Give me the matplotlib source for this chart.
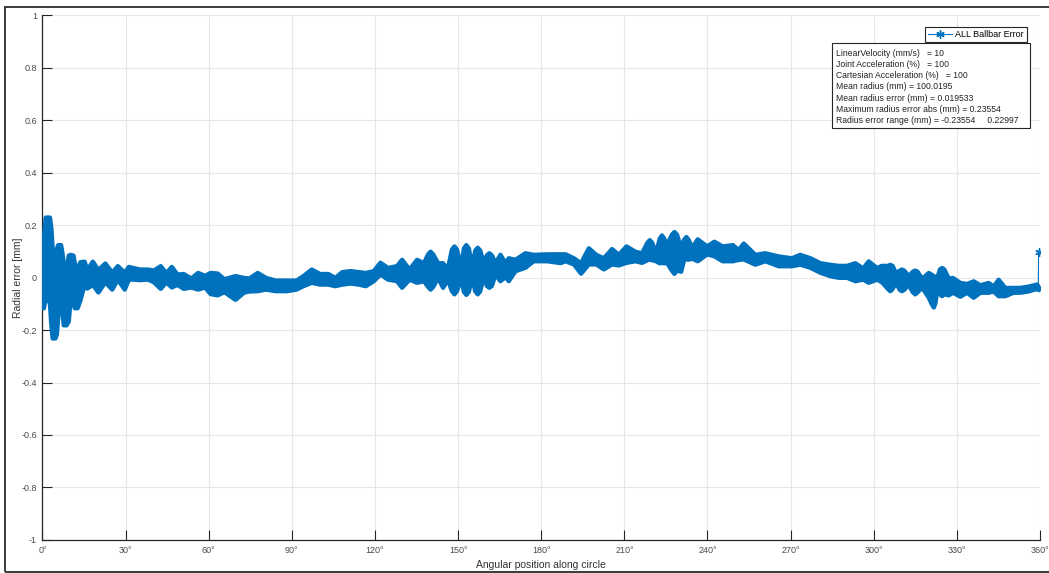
import matplotlib.pyplot as plt
from matplotlib.patches import Rectangle
import numpy as np

plt.rcParams['font.family'] = ['Liberation Sans', 'DejaVu Sans']

# Envelope of the radial error band
ANGLE = [0.0, 0.3, 1.0, 2.5, 3.0, 3.5, 4.5, 5.0, 5.5, 6.5, 7.0, 7.5, 8.5, 9.3, 10.0,
         11.0, 11.5, 12.5, 13.5, 15.0, 16.0, 18.0, 20.0, 22.5, 25.0, 27.0, 29.5,
         31.0, 33.0, 35.0, 38.0, 40.0, 42.5, 44.5, 46.5, 48.5,
         50.8, 53.5, 56.0, 58.5, 60.5, 63.0, 65.5, 69.5, 72.5, 74.5, 77.5, 80.5,
         84.0, 88.0, 91.5, 94.0, 97.0, 100.0, 103.0, 105.5, 108.0, 111.0, 114.0, 116.5,
         119.4, 121.8, 124.5, 127.8, 129.6, 132.3, 135.0, 137.5,
         139.0, 139.9, 140.8, 142.6, 144.4, 146.1,
         147.6, 148.5, 149.4, 151.0, 151.9, 152.8, 153.7, 154.9,
         156.0, 156.9, 157.8, 159.1, 160.2, 161.1, 162.0, 163.3, 165.1, 166.9,
         168.1, 170.5, 174.1, 177.1, 182.0, 186.8,
         188.6, 191.6, 194.2, 197.0, 199.7, 202.4, 205.4, 207.8, 210.6, 213.8, 216.2,
         218.2, 219.0, 219.8, 221.3, 222.6, 223.4, 224.2, 225.2,
         227.0, 227.9, 228.8, 230.3, 231.4, 232.2, 233.0, 234.3, 236.3, 239.7, 242.3,
         245.3, 249.0, 251.1, 252.9,
         257.1, 260.7, 265.5, 270.3, 273.3, 277.0, 280.6, 284.2, 287.2, 290.2, 293.2,
         296.0, 298.0, 301.0, 302.8, 305.0, 305.8, 306.6, 307.9, 309.2, 310.0, 310.8,
         312.4, 314.0, 314.8, 315.6, 317.3, 319.7, 320.8, 321.5, 322.1, 322.7,
         323.7, 324.5, 325.3, 326.9, 328.4, 331.1, 333.5, 335.9, 338.3, 341.3, 343.1,
         344.9, 347.3, 350.3, 352.7, 355.7, 358.8, 359.4]
UPPER = [-0.09, 0.15, 0.23, 0.23, 0.19, 0.11, 0.05, 0.11, 0.125, 0.125, 0.095, 0.055, 0.02, 0.085, 0.088,
         0.085, 0.055, 0.03, 0.06, 0.062, 0.03, 0.062, 0.03, 0.055, 0.02, 0.045, 0.02,
         0.042, 0.037, 0.032, 0.032, 0.028, 0.045, 0.018, 0.042, 0.013,
         0.015, -0.002, 0.019, 0.008, 0.019, 0.017, -0.005, 0.007, 0.0, -0.002, 0.019, 0.0,
         -0.01, -0.01, -0.01, 0.007, 0.032, 0.015, 0.015, 0.0, 0.022, 0.026, 0.022, 0.019,
         0.026, 0.058, 0.038, 0.045, 0.069, 0.032, 0.069, 0.056,
         0.09, 0.1, 0.09, 0.056, 0.056, 0.032,
         0.108, 0.12, 0.108, 0.038, 0.112, 0.125, 0.112, 0.038,
         0.104, 0.115, 0.104, 0.056, 0.086, 0.094, 0.086, 0.056, 0.088, 0.056,
         0.075, 0.069, 0.094, 0.088, 0.09, 0.09,
         0.09, 0.075, 0.056, 0.113, 0.088, 0.075, 0.11, 0.088, 0.12, 0.1, 0.094,
         0.135, 0.144, 0.135, 0.094, 0.15, 0.162, 0.15, 0.125,
         0.165, 0.175, 0.165, 0.115, 0.145, 0.156, 0.145, 0.115, 0.147, 0.12, 0.138,
         0.12, 0.125, 0.106, 0.131,
         0.088, 0.094, 0.082, 0.075, 0.088, 0.075, 0.056, 0.05, 0.046, 0.046, 0.056,
         0.036, 0.063, 0.038, 0.046, 0.046, 0.05, 0.046, 0.017, 0.028, 0.032, 0.028,
         0.007, 0.024, 0.028, 0.024, -0.003, 0.019, 0.012, 0.007, 0.004, -0.003,
         0.032, 0.038, 0.032, -0.003, 0.0, -0.019, -0.023, -0.013, -0.028, -0.019, -0.033,
         -0.007, -0.038, -0.038, -0.038, -0.033, -0.025, -0.035]
LOWER = [-0.115, -0.115, -0.075, -0.095, -0.175, -0.23, -0.23, -0.215, -0.145, -0.045, -0.125, -0.18, -0.18, -0.165, -0.075,
         -0.095, -0.115, -0.115, -0.085, -0.026, -0.04, -0.026, -0.055, -0.016, -0.044, -0.006, -0.044,
         -0.006, -0.006, -0.008, -0.006, -0.016, -0.041, -0.016, -0.036, -0.026,
         -0.041, -0.036, -0.044, -0.036, -0.061, -0.066, -0.054, -0.083, -0.056, -0.051, -0.05, -0.044,
         -0.05, -0.05, -0.044, -0.031, -0.018, -0.025, -0.025, -0.031, -0.025, -0.021, -0.025, -0.031,
         -0.012, 0.014, -0.006, -0.012, -0.037, -0.006, -0.018, -0.012,
         -0.034, -0.044, -0.034, 0.001, -0.037, -0.006,
         -0.05, -0.062, -0.05, 0.001, -0.052, -0.064, -0.052, 0.007,
         -0.05, -0.062, -0.05, 0.007, -0.03, -0.037, -0.03, 0.014, -0.012, 0.004,
         -0.012, 0.026, 0.039, 0.064, 0.064, 0.057,
         0.064, 0.052, 0.017, 0.052, 0.052, 0.033, 0.052, 0.048, 0.058, 0.064, 0.058,
         0.068, 0.071, 0.068, 0.064, 0.056, 0.058, 0.056, 0.058,
         0.028, 0.016, 0.028, 0.024, 0.07, 0.071, 0.07, 0.074, 0.064, 0.09, 0.083,
         0.064, 0.064, 0.069, 0.071,
         0.051, 0.064, 0.045, 0.045, 0.051, 0.039, 0.02, 0.007, 0.001, 0.001, -0.012,
         -0.006, -0.018, -0.006, -0.016, -0.042, -0.05, -0.042, -0.016, -0.045, -0.05, -0.045,
         -0.026, -0.055, -0.062, -0.055, -0.036, -0.075, -0.1, -0.112, -0.095, -0.046,
         -0.062, -0.069, -0.062, -0.066, -0.056, -0.071, -0.056, -0.075, -0.056, -0.056, -0.051,
         -0.069, -0.069, -0.056, -0.056, -0.051, -0.041, -0.046]

# last samples of the run (jump back up at the end)
END_ANGLE = [359.4, 359.5]
END_VALUE = [-0.035, 0.098]

XTICKS = [0, 30, 60, 90, 120, 150, 180, 210, 240, 270, 300, 330, 360]
YTICKS = [-1, -0.8, -0.6, -0.4, -0.2, 0, 0.2, 0.4, 0.6, 0.8, 1]

INFO = ["LinearVelocity (mm/s)   = 10",
        "Joint Acceleration (%)   = 100",
        "Cartesian Acceleration (%)   = 100",
        "Mean radius (mm) = 100.0195",
        "Mean radius error (mm) = 0.019533",
        "Maximum radius error abs (mm) = 0.23554",
        "Radius error range (mm) = -0.23554     0.22997"]

BLUE = '#0072BD'
DARK = '#262626'

fig = plt.figure(figsize=(10.49, 5.73), dpi=100)
ax = fig.add_axes([0.0405, 0.0576, 0.9509, 0.9162])

band = ax.fill_between(ANGLE, LOWER, UPPER, color=BLUE, lw=3.2, edgecolor=BLUE, zorder=3)
band.set_joinstyle('round')
ax.plot(END_ANGLE, END_VALUE, color=BLUE, lw=0.8, marker=(6, 2, 0), ms=6, mew=1,
        markevery=[1], label='ALL Ballbar Error', zorder=3)

ax.set_xlim(0, 360)
ax.set_ylim(-1, 1)
ax.set_xticks(XTICKS)
ax.set_xticklabels([f'{t}\u00b0' for t in XTICKS])
ax.set_yticks(YTICKS)
ax.set_yticklabels([f'{t:g}' for t in YTICKS])
ax.tick_params(direction='in', length=7, width=0.8, color=DARK, labelcolor='#4a4a4a',
               labelsize=6.5, pad=4)
ax.grid(True, color='#e6e6e6', lw=0.8)
ax.set_axisbelow(True)
for s in ['top', 'right']:
    ax.spines[s].set_visible(False)
for s in ['left', 'bottom']:
    ax.spines[s].set_color(DARK)
    ax.spines[s].set_linewidth(0.9)

ax.set_xlabel('Angular position along circle', fontsize=7.5, color='#333333', labelpad=4)
ax.set_ylabel('Radial error [mm]', fontsize=7.5, color='#333333')
ax.yaxis.set_label_coords(-0.020, 0.5)

leg = ax.legend(loc='upper right', bbox_to_anchor=(0.987, 0.977), borderaxespad=0,
                fontsize=6.5, fancybox=False, framealpha=1, edgecolor=DARK,
                handlelength=2.6, borderpad=0.35, handletextpad=0.4)
leg.get_frame().set_linewidth(0.8)

ax.add_patch(Rectangle((0.7915, 0.7848), 0.1985, 0.1619, transform=ax.transAxes,
                       fc='white', ec=DARK, lw=0.8, zorder=5))
ax.text(0.796, 0.935, '\n'.join(INFO), transform=ax.transAxes, ha='left', va='top',
        fontsize=6.2, color='#222222', linespacing=1.3, zorder=6)

# outer frame of the figure window
fig.patches.append(Rectangle((0.005, 0.002), 1.0, 0.986, transform=fig.transFigure,
                             fill=False, ec='#3a3a3a', lw=1.4))

fig.savefig('out.png', dpi=100)
